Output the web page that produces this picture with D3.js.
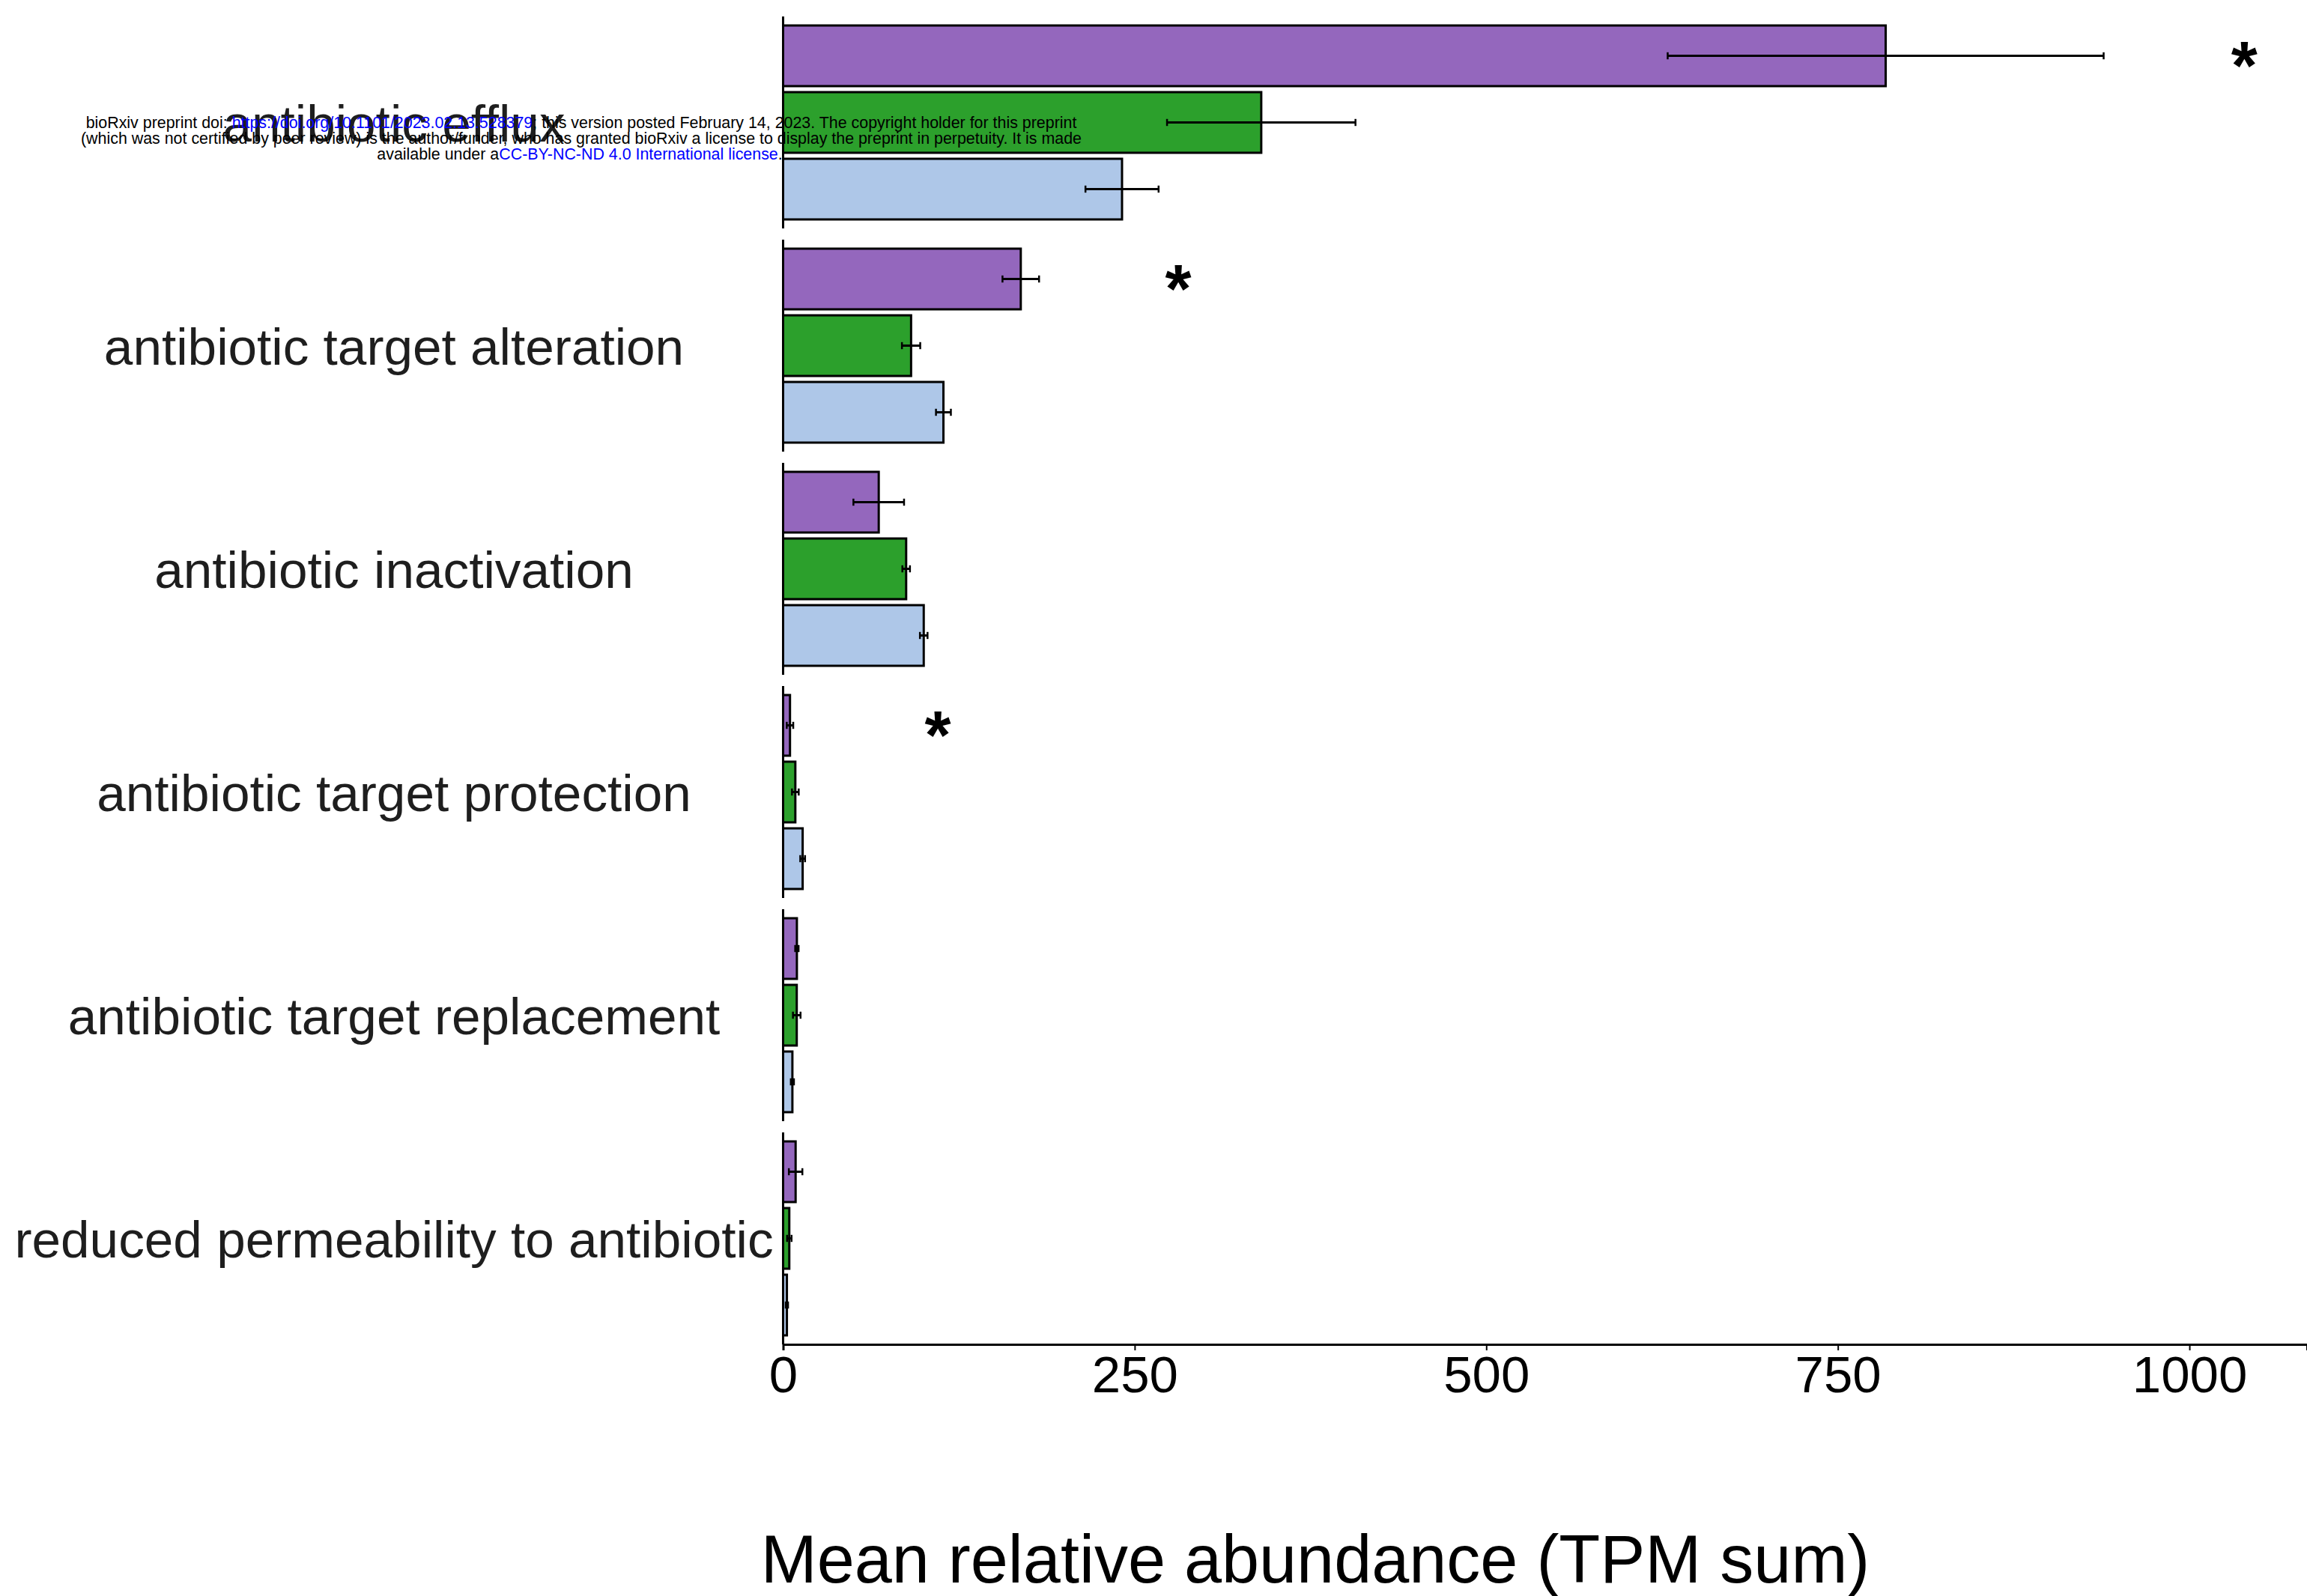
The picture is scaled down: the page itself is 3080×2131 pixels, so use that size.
<!DOCTYPE html>
<html>
<head>
<meta charset="utf-8">
<script src="https://cdn.jsdelivr.net/npm/d3@7"></script>
<style>
  html, body { margin: 0; padding: 0; background: #ffffff; }
  svg { display: block; }
  text { font-family: "Liberation Sans", Arial, Helvetica, sans-serif; }
</style>
</head>
<body>
<svg id="chart" width="3080" height="2131"></svg>
<script>
// Resistance mechanism classes, one panel each
const categories = [
  "antibiotic efflux",
  "antibiotic target alteration",
  "antibiotic inactivation",
  "antibiotic target protection",
  "antibiotic target replacement",
  "reduced permeability to antibiotic"
];

// Three sample groups (purple, green, light blue): mean TPM sum and error
const seriesKeys = ["groupA", "groupB", "groupC"];
const seriesColors = ["#9467bd", "#2ca02c", "#aec7e8"];

const groupAMean = [784, 169, 68, 4.9, 9.8, 8.9];
const groupAErr  = [155, 13, 18, 2.3, 1.2, 4.8];
const groupBMean = [340, 91, 87.5, 8.7, 9.7, 4.4];
const groupBErr  = [67, 6.5, 2.7, 2.4, 2.7, 1.6];
const groupCMean = [241, 114, 100, 13.9, 6.6, 2.7];
const groupCErr  = [26, 5.3, 2.7, 1.7, 1.1, 0.8];

// Significance markers, placed at these x values (TPM units)
const starX = [1039, 281, null, 110, null, null];

const xTicks = [0, 250, 500, 750, 1000];
const xDomain = [0, 1083.6];
const xTitle = "Mean relative abundance (TPM sum)";

const means = [groupAMean, groupBMean, groupCMean];
const errs = [groupAErr, groupBErr, groupCErr];

const rows = [];
categories.forEach((c, i) => {
  seriesKeys.forEach((k, j) => {
    rows.push({ category: c, series: k, color: seriesColors[j], mean: means[j][i], err: errs[j][i] });
  });
});

const svg = d3.select("#chart");

const x = d3.scaleLinear().domain(xDomain).range([1045.5, 3080]);

const yPanel = d3.scaleBand()
  .domain(categories)
  .range([22, 1795])
  .paddingInner(15 / 298)
  .paddingOuter(0);

const yBar = d3.scaleBand()
  .domain(seriesKeys)
  .range([0, yPanel.bandwidth()])
  .paddingInner(0.09)
  .paddingOuter(0.135);

const labelColor = "#1e1e1e";

// Category labels, centred to the left of each panel
svg.append("g").selectAll("text")
  .data(categories)
  .join("text")
  .attr("x", 526)
  .attr("y", d => yPanel(d) + yPanel.bandwidth() / 2 + 25)
  .attr("text-anchor", "middle")
  .attr("font-size", 69.3)
  .attr("fill", labelColor)
  .text(d => d);

// Panels
const panels = svg.append("g").selectAll("g.panel")
  .data(categories)
  .join("g")
  .attr("class", "panel")
  .attr("transform", d => `translate(0,${yPanel(d)})`);

// Bars
panels.selectAll("rect")
  .data(c => rows.filter(r => r.category === c))
  .join("rect")
  .attr("x", x(0))
  .attr("y", d => yBar(d.series))
  .attr("width", d => x(d.mean) - x(0))
  .attr("height", yBar.bandwidth())
  .attr("fill", d => d.color)
  .attr("stroke", "#000")
  .attr("stroke-width", 3);

// Error bars with caps
const eb = panels.selectAll("g.err")
  .data(c => rows.filter(r => r.category === c))
  .join("g")
  .attr("class", "err")
  .attr("transform", d => `translate(0,${yBar(d.series) + yBar.bandwidth() / 2})`);

eb.append("line")
  .attr("x1", d => x(d.mean - d.err))
  .attr("x2", d => x(d.mean + d.err))
  .attr("y1", 0).attr("y2", 0)
  .attr("stroke", "#000").attr("stroke-width", 3);

eb.selectAll("line.cap")
  .data(d => [d.mean - d.err, d.mean + d.err])
  .join("line")
  .attr("class", "cap")
  .attr("x1", v => x(v)).attr("x2", v => x(v))
  .attr("y1", -4.7).attr("y2", 4.7)
  .attr("stroke", "#000").attr("stroke-width", 2.5);

// Left spine segment for each panel
panels.append("line")
  .attr("x1", x(0)).attr("x2", x(0))
  .attr("y1", 0).attr("y2", yPanel.bandwidth())
  .attr("stroke", "#000").attr("stroke-width", 3);

// Significance stars next to the purple bar
panels.filter((d, i) => starX[i] != null)
  .append("text")
  .attr("x", d => x(starX[categories.indexOf(d)]))
  .attr("y", yBar(seriesKeys[0]) + yBar.bandwidth() / 2 + 44)
  .attr("text-anchor", "middle")
  .attr("font-size", 90)
  .attr("font-weight", "bold")
  .attr("fill", "#000")
  .text("*");

// Shared x axis along the bottom of the last panel
const axisY = yPanel(categories[categories.length - 1]) + yPanel.bandwidth();
const xAxis = svg.append("g")
  .attr("transform", `translate(0,${axisY})`)
  .call(d3.axisBottom(x).tickValues(xTicks).tickFormat(d3.format("d")).tickSizeOuter(0).tickSize(8).tickPadding(4));

xAxis.select(".domain").attr("stroke", "#000").attr("stroke-width", 3);
xAxis.selectAll(".tick line").attr("stroke", "#000").attr("stroke-width", 2);
xAxis.selectAll(".tick text")
  .attr("font-size", 69)
  .attr("font-family", "'Liberation Sans', Arial, sans-serif")
  .attr("fill", "#000")
  .attr("dy", null)
  .attr("y", 64);

svg.append("text")
  .attr("x", 1756)
  .attr("y", 2113)
  .attr("text-anchor", "middle")
  .attr("font-size", 90)
  .attr("fill", "#000")
  .text(xTitle);

// Preprint notice
const notice = svg.append("g").attr("font-size", 21.4).attr("fill", "#000").attr("text-anchor", "middle");
const l1 = notice.append("text").attr("x", 776).attr("y", 171);
l1.append("tspan").text("bioRxiv preprint doi: ");
l1.append("tspan").attr("fill", "#0000ff").text("https://doi.org/10.1101/2023.02.13.528379");
l1.append("tspan").text("; this version posted February 14, 2023. The copyright holder for this preprint");
notice.append("text").attr("x", 776).attr("y", 192)
  .text("(which was not certified by peer review) is the author/funder, who has granted bioRxiv a license to display the preprint in perpetuity. It is made");
const l3 = notice.append("text").attr("x", 774).attr("y", 213);
l3.append("tspan").text("available under a");
l3.append("tspan").attr("fill", "#0000ff").text("CC-BY-NC-ND 4.0 International license");
l3.append("tspan").text(".");
</script>
</body>
</html>
